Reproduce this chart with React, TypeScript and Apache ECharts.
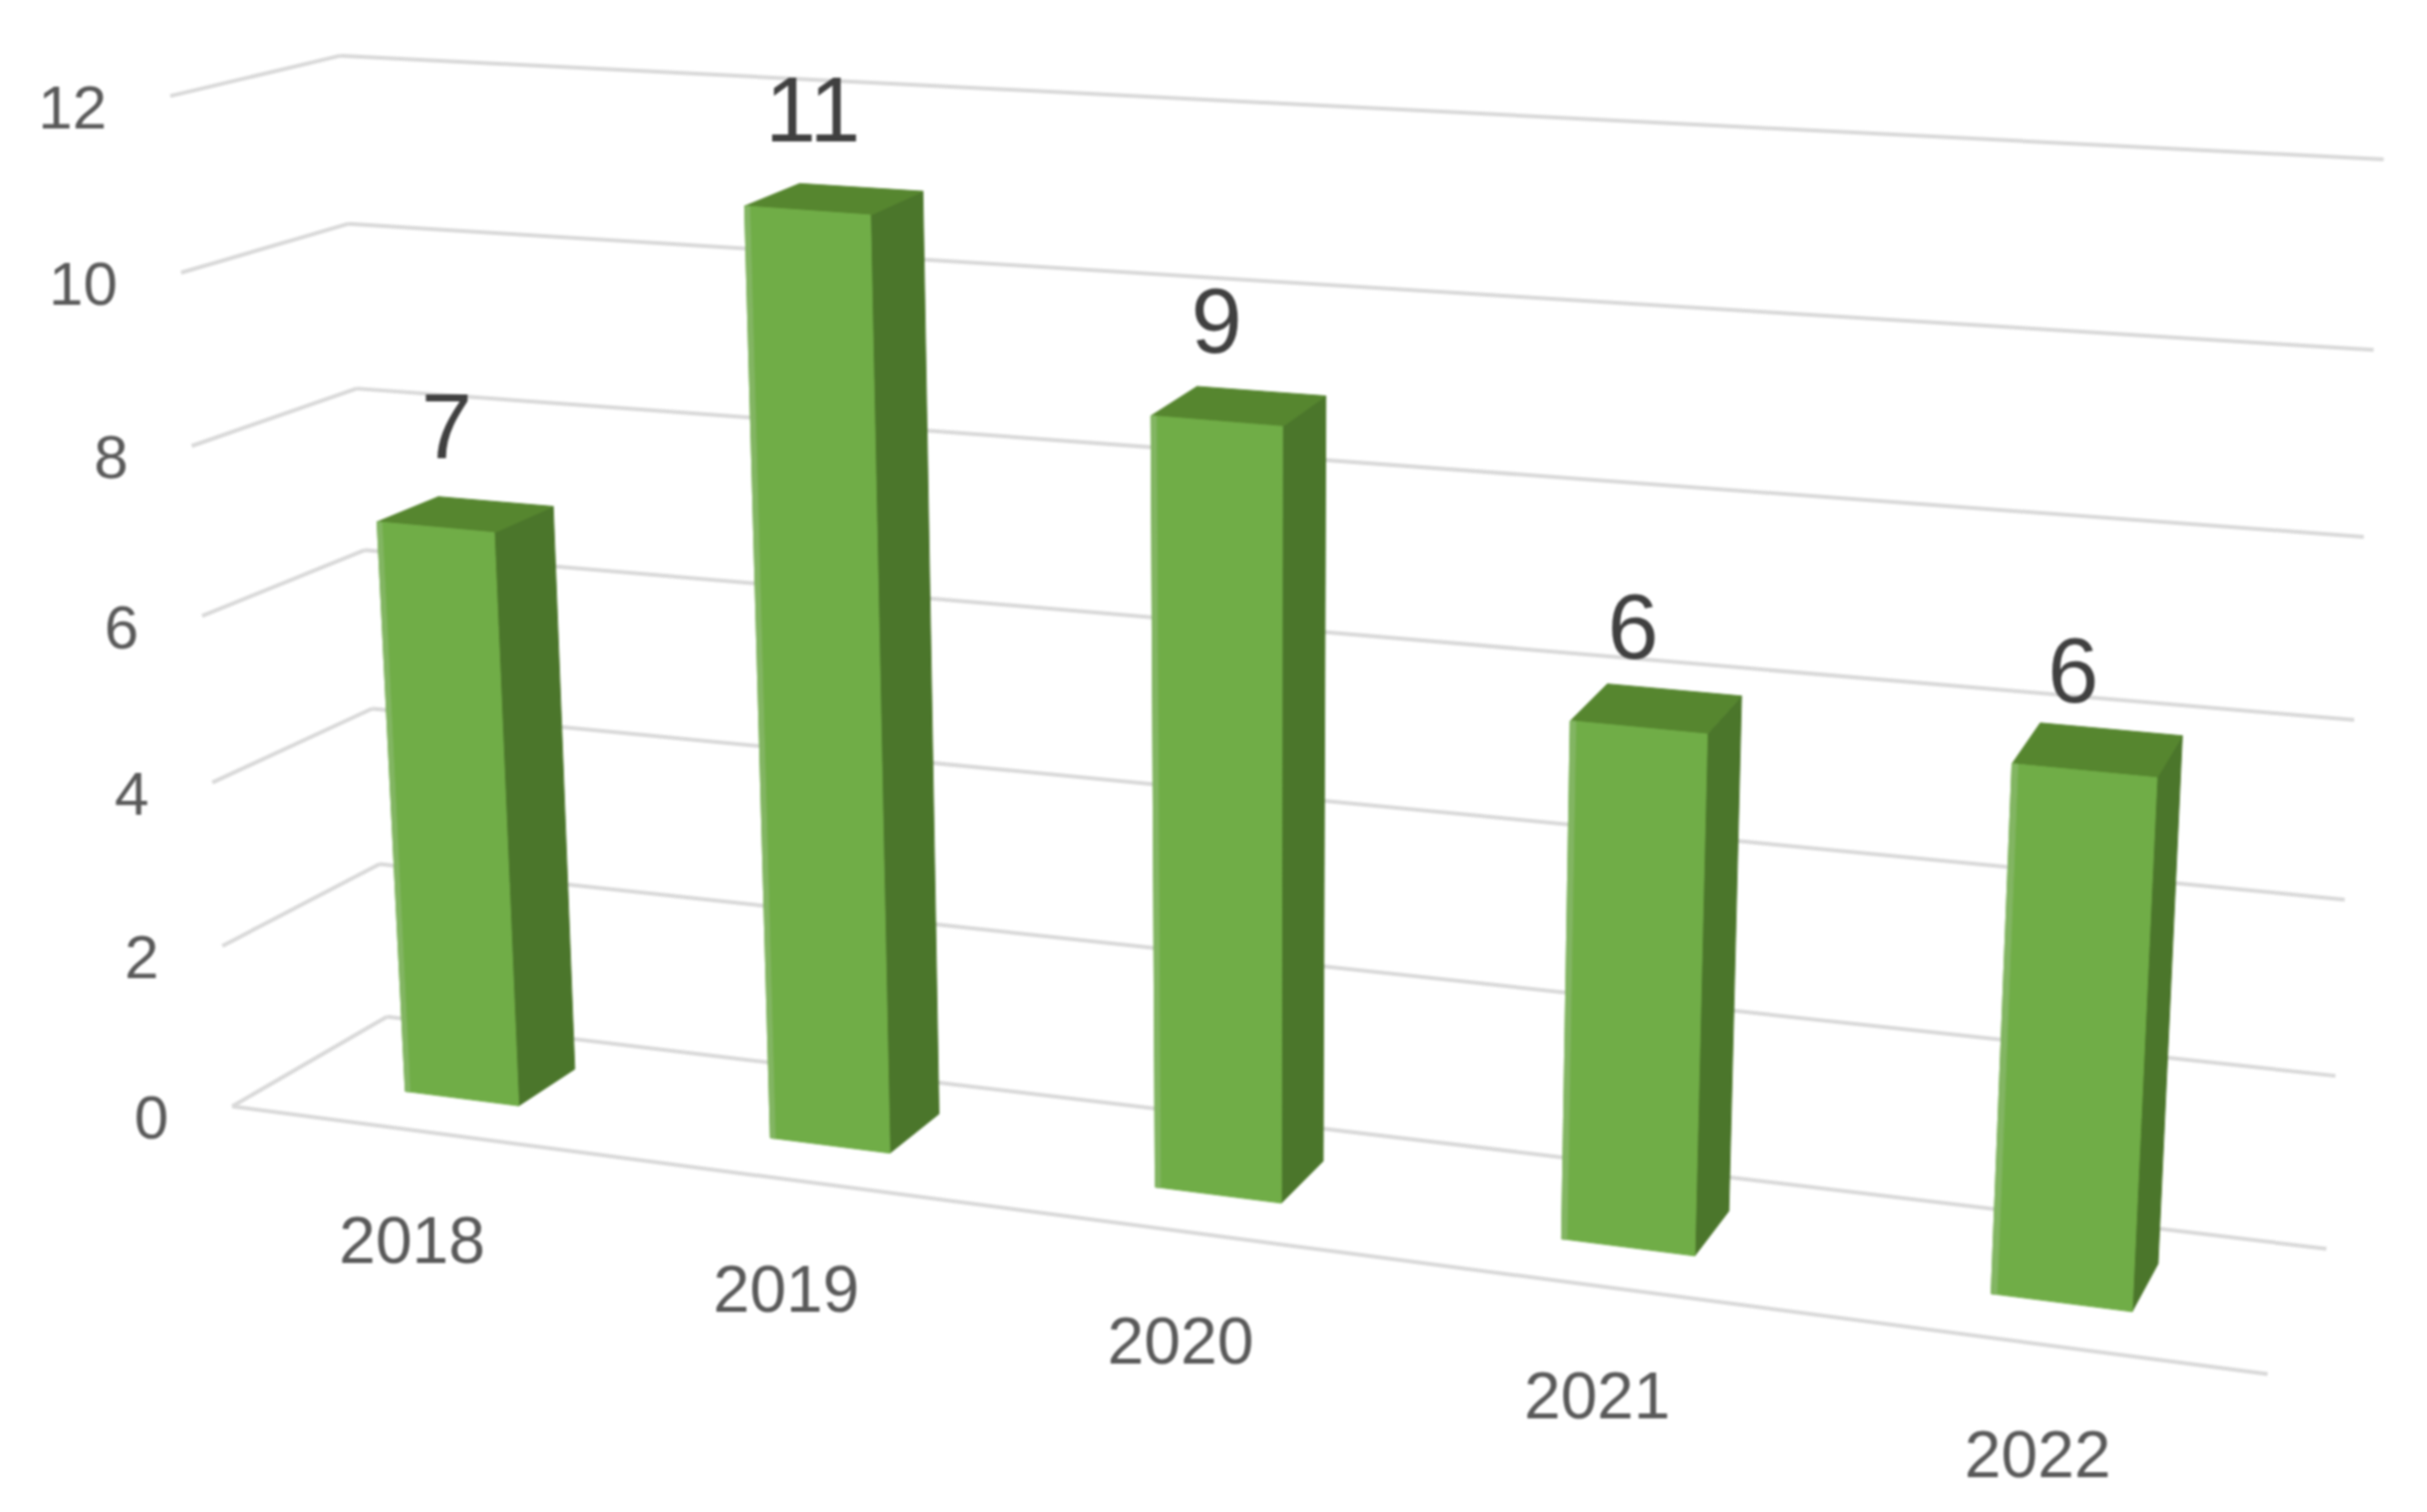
import React, { useEffect, useRef } from "react";
import * as echarts from "echarts";

const categories = ["2018", "2019", "2020", "2021", "2022"];
const barValues = [7, 11, 9, 6, 6];
const valueTicks = [0, 2, 4, 6, 8, 10, 12];

const W = 2436;
const H = 1518;
const K = 2436 / 1568;
type P = [number, number];
const c = (x: number, y: number): P => [x * K, y * K];
// corners of the drawn box: front/back, bottom/top, left/right
const FBL = c(150, 715), FTL = c(110, 62), FBR = c(1465, 888), FTR = c(1505, 165);
const BBL = c(250, 657), BTL = c(220, 36), BBR = c(1503, 807), BTR = c(1540, 103);
const lerp = (a: P, b: P, t: number): P => [a[0] + (b[0] - a[0]) * t, a[1] + (b[1] - a[1]) * t];
const warpU = (u: number) => u / (1 + 0.146 * (1 - u));
const warpV = (v: number) => v / (1 + 0.06 * (1 - v));
const project = (u: number, v: number, d: number): P => {
  const uu = warpU(u), vv = warpV(v);
  const fb = lerp(FBL, FBR, uu), ft = lerp(FTL, FTR, uu);
  const bb = lerp(BBL, BBR, uu), bt = lerp(BTL, BTR, uu);
  return lerp(lerp(fb, ft, vv), lerp(bb, bt, vv), d);
};
const FONT = "'Liberation Sans', Arial, sans-serif";
const D_FRONT = 0.34, D_BACK = 0.73, BAR_HALF = 0.158;

const norm = (params: any, api: any, x: number, y: number) => {
  const cs = params.coordSys;
  const p = api.coord([x, y]);
  return { u: (p[0] - cs.x) / cs.width, v: (cs.y + cs.height - p[1]) / cs.height };
};
const textEl = (text: string, p: P, fontSize: number, fill: string, align = "center") => ({
  type: "text",
  silent: true,
  style: { text, x: p[0], y: p[1], align, verticalAlign: "middle", fontSize, fontFamily: FONT, fill },
});
const line = (a: P, b: P) => ({
  type: "line",
  silent: true,
  shape: { x1: a[0], y1: a[1], x2: b[0], y2: b[1] },
  style: { stroke: "#d9d9d9", lineWidth: 4 },
});
const poly = (points: P[], fill: string) => ({
  type: "polygon",
  silent: true,
  shape: { points },
  style: { fill, stroke: fill, lineWidth: 1 },
});

const renderTick = (params: any, api: any) => {
  const tick = api.value(1);
  const { v } = norm(params, api, 0, tick);
  const front = project(0, v, 0), back = project(0, v, 1), right = project(1, v, 1);
  const children: any[] = [line(front, back), line(back, right)];
  if (tick === 0) children.push(line(front, project(1, 0, 0)));
  children.push(textEl(String(tick), [front[0] - 41 * K, front[1] + 7 * K], 62, "#595959", "right"));
  return { type: "group", children };
};

const renderBar = (params: any, api: any) => {
  const i = api.value(0);
  const val = api.value(1);
  const half = (api.size([1, 0])[0] * BAR_HALF) / params.coordSys.width;
  const { u, v } = norm(params, api, i, val);
  const u0 = u - half, u1 = u + half;
  const fl0 = project(u0, 0, D_FRONT), fr0 = project(u1, 0, D_FRONT), br0 = project(u1, 0, D_BACK);
  const fl1 = project(u0, v, D_FRONT), fr1 = project(u1, v, D_FRONT);
  const bl1 = project(u0, v, D_BACK), br1 = project(u1, v, D_BACK);
  const topCenter = project(u, v, D_FRONT);
  const bottomCenter = project(u, 0, 0);
  const strip = lerp(fl1, fr1, 0.04), stripB = lerp(fl0, fr0, 0.04);
  const dx = (9 - 18 * u) * K;
  return {
    type: "group",
    children: [
      poly([fr0, br0, br1, fr1], "#4b762b"),
      poly([fl1, fr1, br1, bl1], "#56862f"),
      poly([fl0, fr0, fr1, fl1], "#70ad47"),
      poly([fl0, stripB, strip, fl1], "#82b562"),
      textEl(String(val), [topCenter[0] + dx, topCenter[1] - 65 * K], 92, "#404040"),
      textEl(categories[i], [bottomCenter[0], bottomCenter[1] + 71 * K], 66, "#595959"),
    ],
  };
};

export default function App() {
  const ref = useRef<HTMLDivElement>(null);
  useEffect(() => {
    const chart = echarts.init(ref.current!, null, { renderer: "svg" });
    chart.setOption({
      animation: false,
      backgroundColor: "#ffffff",
      grid: { left: 0, right: 0, top: 0, bottom: 0 },
      xAxis: { type: "category", data: categories, show: false },
      yAxis: { type: "value", min: 0, max: 12, interval: 2, show: false },
      series: [
        {
          type: "custom",
          name: "gridlines",
          clip: false,
          z: 1,
          renderItem: renderTick,
          data: valueTicks.map((t) => [0, t]),
        },
        {
          type: "custom",
          name: "bars",
          clip: false,
          z: 2,
          renderItem: renderBar,
          data: barValues.map((b, i) => [i, b]),
        },
      ],
    });
    return () => chart.dispose();
  }, []);
  return <div ref={ref} style={{ position: "fixed", left: 0, top: 0, width: W, height: H, filter: "blur(1px)" }} />;
}
